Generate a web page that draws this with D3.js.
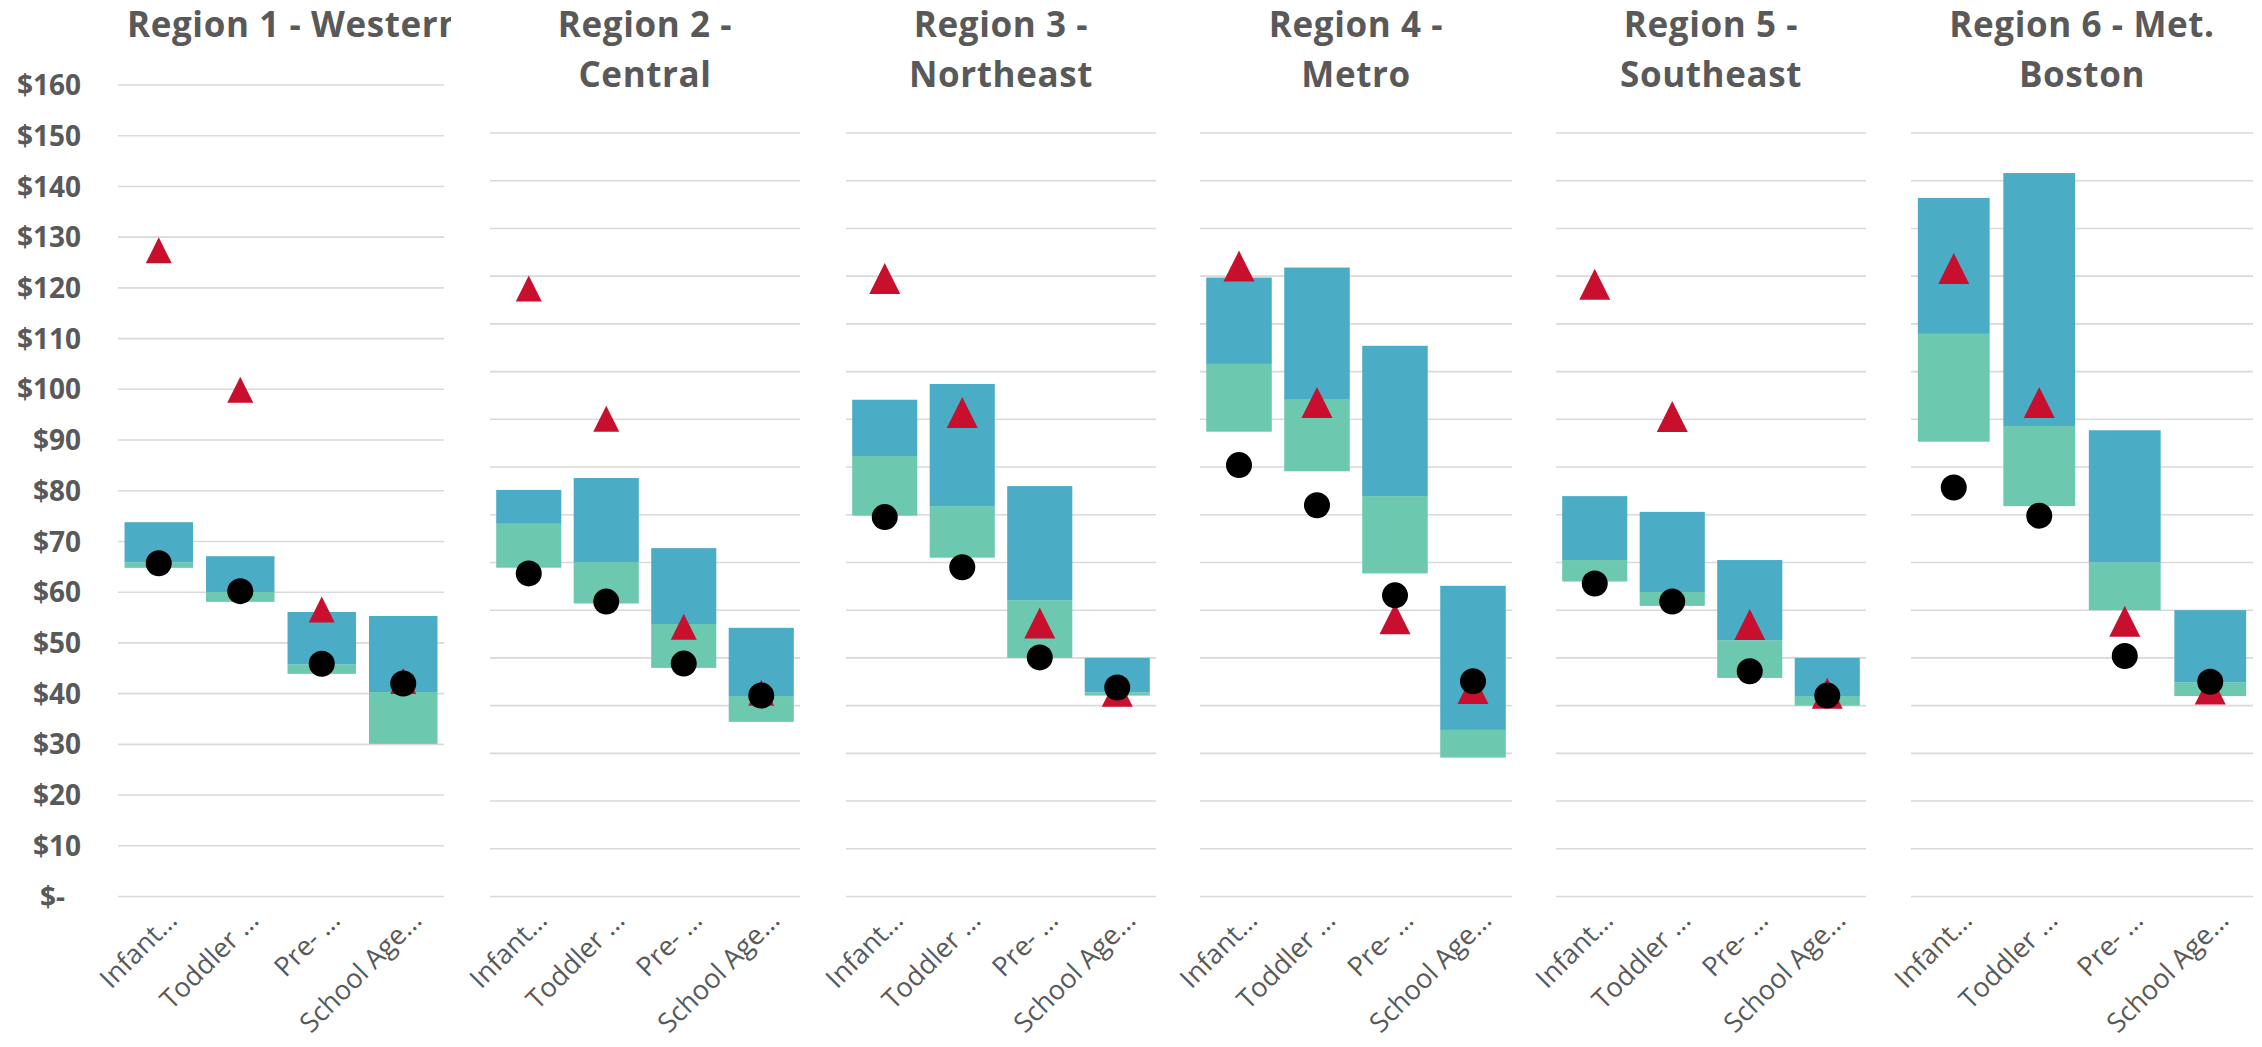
<!DOCTYPE html>
<html>
<head>
<meta charset="utf-8">
<script src="https://cdn.jsdelivr.net/npm/d3@7"></script>
<style>
  html, body { margin: 0; padding: 0; background: #ffffff; }
  svg { display: block; }
  text { font-family: "Open Sans", "Noto Sans", sans-serif; fill: #595959; }
</style>
</head>
<body>
<svg id="chart" width="2262" height="1047"></svg>
<script>
// ---- data -------------------------------------------------------------
const regionTitles = [
  ["Region 1 - Western"],
  ["Region 2 -", "Central"],
  ["Region 3 -", "Northeast"],
  ["Region 4 -", "Metro"],
  ["Region 5 -", "Southeast"],
  ["Region 6 - Met.", "Boston"]
];

const categories = ["Infant...", "Toddler ...", "Pre- ...", "School Age..."];

const yTicks = [0, 10, 20, 30, 40, 50, 60, 70, 80, 90, 100, 110, 120, 130, 140, 150, 160];

// floating bar: lower edge, green/blue split, upper edge (per region, per category)
const barLow = [
  [64.7, 58.0, 43.8, 30.0],
  [68.8, 61.3, 47.8, 36.5],
  [79.7, 70.9, 49.9, 42.0],
  [97.3, 89.0, 67.6, 29.0],
  [65.9, 60.8, 45.7, 39.9],
  [95.2, 81.7, 59.9, 41.9]
];
const barMid = [
  [65.8, 59.9, 45.7, 40.2],
  [78.0, 70.0, 57.0, 41.9],
  [92.2, 81.7, 62.0, 42.7],
  [111.5, 104.0, 83.8, 34.8],
  [70.4, 63.7, 53.6, 41.9],
  [117.8, 98.5, 69.9, 44.8]
];
const barHigh = [
  [73.7, 67.0, 56.0, 55.2],
  [85.1, 87.6, 72.9, 56.2],
  [104.0, 107.3, 85.9, 49.9],
  [129.6, 131.7, 115.3, 65.0],
  [83.8, 80.5, 70.4, 49.9],
  [146.3, 151.5, 97.6, 59.9]
];
// black circle markers
const circleValues = [
  [65.6, 60.1, 45.8, 41.9],
  [67.6, 61.7, 48.7, 42.0],
  [79.4, 68.9, 50.0, 43.7],
  [90.3, 81.9, 63.0, 45.0],
  [65.5, 61.7, 47.1, 42.0],
  [85.6, 79.7, 50.3, 44.9]
];
// red triangle markers
const triangleValues = [
  [127.3, 99.8, 56.5, 42.4],
  [127.3, 100.0, 56.4, 42.6],
  [129.4, 101.3, 57.2, 42.9],
  [132.0, 103.4, 58.1, 43.5],
  [128.2, 100.5, 56.9, 42.5],
  [131.5, 103.4, 57.6, 43.4]
];

// ---- layout -----------------------------------------------------------
const COLORS = { blue: "#4BACC6", green: "#6CC8AE", red: "#C8102E", dot: "#000000", grid: "#D9D9D9" };
const plotBottom = 896;
const panels = [
  { x0: 118,  x1: 444,  top: 84.5,  tri: 26, titleX: 127 },
  { x0: 490,  x1: 800,  top: 132.5, tri: 26 },
  { x0: 846,  x1: 1156, top: 132.5, tri: 31 },
  { x0: 1200, x1: 1512, top: 132.5, tri: 31 },
  { x0: 1556, x1: 1866, top: 132.5, tri: 31 },
  { x0: 1911, x1: 2253, top: 132.5, tri: 31 }
];

const svg = d3.select("#chart");
const defs = svg.append("defs");
defs.append("clipPath").attr("id", "clip-title-1")
  .append("rect").attr("x", 0).attr("y", 0).attr("width", 451).attr("height", 70);

const fmtDollar = d => d === 0 ? "$-" : "$" + d;

panels.forEach((p, i) => {
  const g = svg.append("g").attr("class", "panel panel-" + (i + 1));

  const y = d3.scaleLinear().domain([0, 160]).range([plotBottom, p.top]);
  const x = d3.scaleBand().domain(categories).range([p.x0, p.x1])
    .paddingInner(0.16).paddingOuter(0.08);

  // horizontal gridlines
  const grid = g.append("g")
    .attr("transform", `translate(${p.x0},0)`)
    .call(d3.axisLeft(y).tickValues(yTicks).tickSize(-(p.x1 - p.x0)).tickFormat(""));
  grid.select(".domain").remove();
  grid.selectAll(".tick line").attr("stroke", COLORS.grid).attr("stroke-width", 1.6);

  // y-axis labels on the first panel only
  if (i === 0) {
    const ax = g.append("g")
      .attr("transform", `translate(${p.x0},0)`)
      .call(d3.axisLeft(y).tickValues(yTicks).tickSize(0).tickPadding(37).tickFormat(fmtDollar));
    ax.select(".domain").remove();
    ax.selectAll(".tick text")
      .attr("font-family", "'Open Sans', sans-serif")
      .attr("font-size", 28)
      .attr("font-weight", 700)
      .attr("fill", "#595959")
      .attr("dx", d => d === 0 ? -16 : 0)
      .attr("dy", "0.36em");
  }

  // stacked floating bars
  const rows = categories.map((c, j) => ({
    cat: c, low: barLow[i][j], mid: barMid[i][j], high: barHigh[i][j],
    dot: circleValues[i][j], tri: triangleValues[i][j]
  }));

  g.selectAll("rect.seg-green").data(rows).join("rect")
    .attr("class", "seg-green")
    .attr("x", d => x(d.cat)).attr("width", x.bandwidth())
    .attr("y", d => y(d.mid)).attr("height", d => y(d.low) - y(d.mid))
    .attr("fill", COLORS.green);

  g.selectAll("rect.seg-blue").data(rows).join("rect")
    .attr("class", "seg-blue")
    .attr("x", d => x(d.cat)).attr("width", x.bandwidth())
    .attr("y", d => y(d.high)).attr("height", d => y(d.mid) - y(d.high))
    .attr("fill", COLORS.blue);

  // triangle markers
  const s = p.tri;
  g.selectAll("path.tri").data(rows).join("path")
    .attr("class", "tri")
    .attr("d", d => {
      const cx = x(d.cat) + x.bandwidth() / 2, cy = y(d.tri);
      return `M${cx},${cy - s / 2}L${cx + s / 2},${cy + s / 2}L${cx - s / 2},${cy + s / 2}Z`;
    })
    .attr("fill", COLORS.red);

  // circle markers
  g.selectAll("circle.dot").data(rows).join("circle")
    .attr("class", "dot")
    .attr("cx", d => x(d.cat) + x.bandwidth() / 2)
    .attr("cy", d => y(d.dot))
    .attr("r", 13)
    .attr("fill", COLORS.dot);

  // rotated category labels
  g.selectAll("text.cat").data(categories).join("text")
    .attr("class", "cat")
    .attr("transform", c => `translate(${x(c) + x.bandwidth() / 2 + 20},${plotBottom + 26}) rotate(-45)`)
    .attr("text-anchor", "end")
    .attr("font-size", 27)
    .text(c => c);

  // panel title
  const lines = regionTitles[i];
  const title = g.append("text")
    .attr("font-size", 35)
    .attr("font-weight", 700)
    .attr("letter-spacing", 0.6);
  if (i === 0) {
    title.attr("clip-path", "url(#clip-title-1)")
      .attr("x", p.titleX).attr("y", 37)
      .attr("text-anchor", "start")
      .text(lines[0]);
  } else {
    const cx = (p.x0 + p.x1) / 2;
    title.attr("text-anchor", "middle");
    lines.forEach((ln, k) => {
      title.append("tspan").attr("x", cx).attr("y", 37 + k * 50).text(ln);
    });
  }
});
</script>
</body>
</html>
